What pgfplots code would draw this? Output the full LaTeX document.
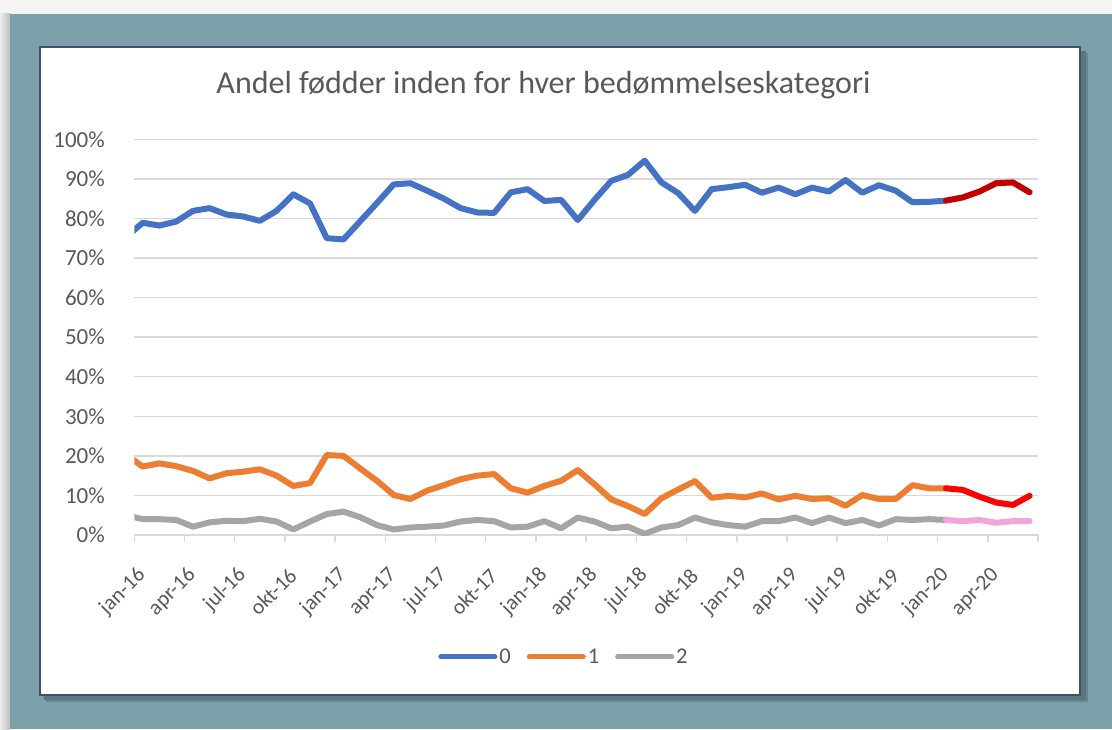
\documentclass[border=0pt]{standalone}
\usepackage{pgfplots}
\pgfplotsset{compat=1.18}
\usepackage{fontspec}
\setmainfont{Carlito}
\definecolor{bgteal}{HTML}{7BA0A9}
\definecolor{boxborder}{HTML}{3E5077}
\definecolor{txtgray}{HTML}{595959}
\definecolor{gridgray}{HTML}{D9D9D9}
\definecolor{cblue}{HTML}{4472C4}
\definecolor{corange}{HTML}{ED7D31}
\definecolor{cgray}{HTML}{A5A5A5}
\definecolor{cdarkred}{HTML}{C00000}
\definecolor{cred}{HTML}{FF0000}
\definecolor{cpink}{HTML}{F4A3DD}
\begin{document}
\begin{tikzpicture}
\useasboundingbox (0pt,0pt) rectangle (1112pt,729pt);
% background
\fill[white!96!black] (0pt,0pt) rectangle (1112pt,729pt);
\shade[left color=white!93!black, right color=white!75!black] (0pt,0pt) rectangle (10pt,715pt);
\fill[bgteal] (10pt,0pt) rectangle (1112pt,715pt);
% shadow
\fill[black!45!bgteal, opacity=0.6] (44pt,29pt) rectangle (1086pt,678pt);
\fill[black!25!bgteal, opacity=0.6] (46pt,27pt) rectangle (1088pt,676pt);
% white box
\fill[white] (40pt,34pt) rectangle (1080pt,682pt);
\draw[boxborder, line width=2.5pt] (40pt,34pt) rectangle (1080pt,682pt);
% title
\node[anchor=base, text=txtgray, font=\fontsize{32}{36}\selectfont] at (543.5pt,635pt) {Andel fødder inden for hver bedømmelseskategori};
\begin{axis}[
  at={(134.3pt,194pt)}, anchor=south west,
  scale only axis, width=903.7pt, height=395.7pt,
  xmin=0, xmax=54, ymin=0, ymax=100,
  axis x line*=bottom, axis y line*=left,
  x axis line style={gridgray, line width=1.5pt},
  y axis line style={draw=none},
  xtick={0,3,...,54},
  xticklabels={jan-16,apr-16,jul-16,okt-16,jan-17,apr-17,jul-17,okt-17,jan-18,apr-18,jul-18,okt-18,jan-19,apr-19,jul-19,okt-19,jan-20,apr-20,},
  x tick style={gridgray, line width=1.5pt},
  major tick length=7pt,
  tick align=outside,
  xticklabel style={xshift=8pt, yshift=-30pt, rotate=45, anchor=east, text=txtgray, font=\fontsize{21.5}{24}\selectfont, inner sep=0pt},
  ytick={0,10,...,100},
  yticklabels={0\%,10\%,20\%,30\%,40\%,50\%,60\%,70\%,80\%,90\%,100\%},
  ymajorgrids, major grid style={gridgray, line width=1.5pt},
  y tick style={draw=none},
  yticklabel style={text=txtgray, font=\fontsize{23}{26}\selectfont, anchor=east, xshift=-19pt},
  every axis plot/.append style={line width=6pt, line join=round, line cap=round, mark=none},
  legend columns=3,
  legend style={at={(0.4755,-0.3083)}, anchor=center, draw=none, fill=none,
    font=\fontsize{22.5}{24}\selectfont, text=txtgray,
    /tikz/every even column/.append style={column sep=14pt},
    nodes={inner sep=2pt}},
  legend image code/.code={\draw[#1, line width=5pt, line cap=round] (0pt,0pt) -- (54pt,0pt);},
]
\addplot[cblue] coordinates {
(-0.5,75.3)(0.5,78.9)(1.5,78.2)(2.5,79.2)(3.5,81.9)(4.5,82.6)(5.5,81.0)(6.5,80.5)(7.5,79.4)(8.5,81.9)
(9.5,86.1)(10.5,83.8)(11.5,75.0)(12.5,74.7)(13.5,79.3)(14.5,83.9)(15.5,88.6)(16.5,88.9)(17.5,87.0)(18.5,85.0)
(19.5,82.6)(20.5,81.5)(21.5,81.4)(22.5,86.6)(23.5,87.4)(24.5,84.4)(25.5,84.7)(26.5,79.6)(27.5,84.7)(28.5,89.5)
(29.5,91.0)(30.5,94.6)(31.5,89.1)(32.5,86.4)(33.5,81.9)(34.5,87.4)(35.5,87.9)(36.5,88.5)(37.5,86.5)(38.5,87.8)
(39.5,86.1)(40.5,87.8)(41.5,86.8)(42.5,89.7)(43.5,86.5)(44.5,88.4)(45.5,87.0)(46.5,84.1)(47.5,84.2)(48.5,84.5)
};
\addlegendentry{0}
\addplot[corange] coordinates {
(-0.5,20.3)(0.5,17.3)(1.5,18.1)(2.5,17.4)(3.5,16.2)(4.5,14.3)(5.5,15.6)(6.5,16.0)(7.5,16.6)(8.5,15.0)
(9.5,12.4)(10.5,13.1)(11.5,20.2)(12.5,20.0)(13.5,16.8)(14.5,13.7)(15.5,10.1)(16.5,9.1)(17.5,11.2)(18.5,12.6)
(19.5,14.1)(20.5,15.0)(21.5,15.4)(22.5,11.8)(23.5,10.7)(24.5,12.4)(25.5,13.7)(26.5,16.4)(27.5,12.8)(28.5,9.0)
(29.5,7.3)(30.5,5.3)(31.5,9.3)(32.5,11.5)(33.5,13.6)(34.5,9.4)(35.5,9.9)(36.5,9.5)(37.5,10.5)(38.5,9.0)
(39.5,9.9)(40.5,9.1)(41.5,9.3)(42.5,7.4)(43.5,10.1)(44.5,9.1)(45.5,9.1)(46.5,12.6)(47.5,11.8)(48.5,11.8)
};
\addlegendentry{1}
\addplot[cgray] coordinates {
(-0.5,5.0)(0.5,4.0)(1.5,4.0)(2.5,3.8)(3.5,2.1)(4.5,3.2)(5.5,3.6)(6.5,3.5)(7.5,4.1)(8.5,3.4)
(9.5,1.4)(10.5,3.4)(11.5,5.3)(12.5,5.9)(13.5,4.5)(14.5,2.5)(15.5,1.4)(16.5,1.9)(17.5,2.1)(18.5,2.4)
(19.5,3.4)(20.5,3.8)(21.5,3.5)(22.5,1.9)(23.5,2.1)(24.5,3.5)(25.5,1.7)(26.5,4.4)(27.5,3.4)(28.5,1.7)
(29.5,2.1)(30.5,0.3)(31.5,1.9)(32.5,2.5)(33.5,4.4)(34.5,3.2)(35.5,2.5)(36.5,2.1)(37.5,3.5)(38.5,3.5)
(39.5,4.4)(40.5,3.0)(41.5,4.4)(42.5,3.0)(43.5,3.8)(44.5,2.4)(45.5,4.0)(46.5,3.8)(47.5,4.0)(48.5,3.8)
};
\addlegendentry{2}
\addplot[cdarkred, forget plot] coordinates {(48.5,84.5)(49.5,85.3)(50.5,86.8)(51.5,88.9)(52.5,89.1)(53.5,86.6)};
\addplot[cred, forget plot] coordinates {(48.5,11.8)(49.5,11.4)(50.5,9.7)(51.5,8.2)(52.5,7.6)(53.5,9.9)};
\addplot[cpink, forget plot] coordinates {(48.5,3.8)(49.5,3.5)(50.5,3.8)(51.5,3.1)(52.5,3.5)(53.5,3.5)};
\end{axis}
\end{tikzpicture}
\end{document}
